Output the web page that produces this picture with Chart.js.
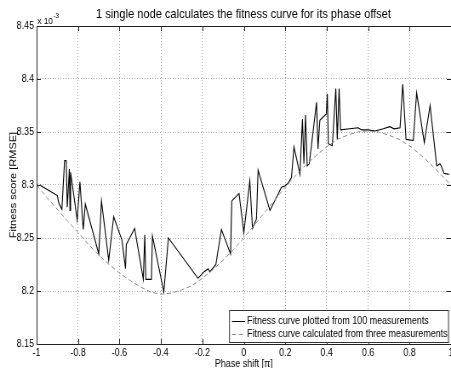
<!DOCTYPE html>
<html>
<head>
<meta charset="utf-8">
<script src="https://cdn.jsdelivr.net/npm/chart.js@4.4.0/dist/chart.umd.min.js"></script>
<style>
  body { margin: 0; background: #fff; }
  /* the original figure is squeezed sideways, so draw wide and shrink it */
  #fitChart { width: 451px; height: 368px; display: block; }
</style>
</head>
<body>
<canvas id="fitChart" width="530" height="368" style="width:451px;height:368px"></canvas>
<script>
// measured fitness curve (100 measurements, sorted by phase)
const measX = [-0.985, -0.900, -0.893, -0.878, -0.865, -0.857, -0.852, -0.842, -0.839, -0.836,
    -0.804, -0.791, -0.775, -0.765, -0.700, -0.687, -0.652, -0.628, -0.588, -0.571,
    -0.567, -0.527, -0.485, -0.478, -0.473, -0.446, -0.441, -0.386, -0.364, -0.221,
    -0.193, -0.172, -0.164, -0.135, -0.108, -0.064, -0.058, -0.023, 0.000, 0.029,
    0.042, 0.061, 0.069, 0.126, 0.182, 0.198, 0.215, 0.230, 0.242, 0.271,
    0.283, 0.290, 0.298, 0.306, 0.316, 0.351, 0.358, 0.367, 0.398, 0.403,
    0.408, 0.427, 0.444, 0.451, 0.460, 0.467, 0.512, 0.552, 0.569, 0.600,
    0.633, 0.673, 0.705, 0.725, 0.754, 0.767, 0.783, 0.818, 0.834, 0.871,
    0.899, 0.931, 0.947, 0.955, 0.966, 0.990];
const measY = [8.300, 8.290, 8.283, 8.277, 8.323, 8.323, 8.279, 8.315, 8.276, 8.312,
    8.267, 8.303, 8.258, 8.282, 8.235, 8.285, 8.229, 8.270, 8.248, 8.221,
    8.244, 8.259, 8.211, 8.253, 8.211, 8.211, 8.252, 8.199, 8.250, 8.212,
    8.218, 8.221, 8.218, 8.225, 8.258, 8.235, 8.285, 8.292, 8.255, 8.304,
    8.259, 8.268, 8.314, 8.276, 8.298, 8.299, 8.302, 8.307, 8.336, 8.310,
    8.362, 8.320, 8.366, 8.318, 8.320, 8.378, 8.334, 8.361, 8.367, 8.386,
    8.339, 8.337, 8.391, 8.343, 8.391, 8.352, 8.353, 8.354, 8.352, 8.352,
    8.351, 8.353, 8.355, 8.353, 8.354, 8.395, 8.343, 8.342, 8.387, 8.340,
    8.375, 8.318, 8.320, 8.317, 8.311, 8.310];

// fitted curve from three measurements
const fitX = [-1.00, -0.95, -0.90, -0.85, -0.80, -0.75, -0.70, -0.65, -0.60, -0.55,
    -0.50, -0.45, -0.40, -0.35, -0.30, -0.25, -0.20, -0.15, -0.10, -0.05,
    0.00, 0.05, 0.10, 0.15, 0.20, 0.25, 0.30, 0.35, 0.40, 0.45,
    0.50, 0.55, 0.60, 0.65, 0.70, 0.75, 0.80, 0.85, 0.90, 0.95, 1.00];
const fitY = [8.300, 8.288, 8.277, 8.266, 8.255, 8.244, 8.234, 8.225, 8.217, 8.210,
    8.204, 8.199, 8.197, 8.198, 8.201, 8.205, 8.212, 8.220, 8.229, 8.239,
    8.250, 8.262, 8.274, 8.286, 8.298, 8.309, 8.319, 8.328, 8.336, 8.343,
    8.347, 8.350, 8.351, 8.350, 8.347, 8.343, 8.337, 8.329, 8.320, 8.310, 8.300];

const xTicks = [-1, -0.8, -0.6, -0.4, -0.2, 0, 0.2, 0.4, 0.6, 0.8, 1];
const yTicks = [8.15, 8.2, 8.25, 8.3, 8.35, 8.4, 8.45];

const titleText = '1 single node calculates the fitness curve for its phase offset';
const legendLabels = ['Fitness curve plotted from 100 measurements',
    'Fitness curve calculated from three measurements'];

const FONT = "'Liberation Sans', Arial, Helvetica, sans-serif";
Chart.defaults.font.family = FONT;
Chart.defaults.color = '#000';

const SQ = 451 / 530;          // horizontal squeeze of the page
const wx = (x) => x / SQ;      // page x -> canvas x

const toPts = (xs, ys) => xs.map((x, i) => ({ x: x, y: ys[i] }));

// title, exponent label, box, inner ticks and legend, drawn like the matlab figure
const decor = {
    id: 'decor',
    afterDraw(chart) {
        const ctx = chart.ctx;
        const a = chart.chartArea;
        const sx = chart.scales.x, sy = chart.scales.y;
        ctx.save();
        ctx.strokeStyle = '#222';
        ctx.lineWidth = 1;
        ctx.strokeRect(a.left + 0.5, a.top + 0.5, a.right - a.left, a.bottom - a.top);

        // matlab style ticks pointing into the axes
        ctx.beginPath();
        xTicks.forEach(v => {
            const px = Math.round(sx.getPixelForValue(v)) + 0.5;
            ctx.moveTo(px, a.bottom); ctx.lineTo(px, a.bottom - 5);
            ctx.moveTo(px, a.top); ctx.lineTo(px, a.top + 5);
        });
        yTicks.forEach(v => {
            const py = Math.round(sy.getPixelForValue(v)) + 0.5;
            ctx.moveTo(a.left, py); ctx.lineTo(a.left + 5, py);
            ctx.moveTo(a.right, py); ctx.lineTo(a.right - 5, py);
        });
        ctx.stroke();

        ctx.fillStyle = '#000';
        ctx.textBaseline = 'middle';
        ctx.textAlign = 'center';
        ctx.font = '13px ' + FONT;
        ctx.fillText(titleText, wx(243.5), 14);

        ctx.textAlign = 'left';
        ctx.font = '9.5px ' + FONT;
        ctx.fillText('x 10', a.left + 1, 21);
        const w = ctx.measureText('x 10').width;
        ctx.font = '7px ' + FONT;
        ctx.fillText('-3', a.left + 2 + w, 16);

        // legend
        const lx = wx(229.5), ly = 310.5, lw = wx(448.5) - wx(229.5), lh = 32;
        ctx.fillStyle = '#fff';
        ctx.fillRect(lx, ly, lw, lh);
        ctx.strokeStyle = '#333';
        ctx.strokeRect(lx, ly, lw, lh);
        ctx.strokeStyle = '#000';
        ctx.beginPath();
        ctx.moveTo(wx(232), 321.5);
        ctx.lineTo(wx(245), 321.5);
        ctx.stroke();
        ctx.strokeStyle = '#8c8c8c';
        ctx.setLineDash([5, 3]);
        ctx.beginPath();
        ctx.moveTo(wx(232), 334.5);
        ctx.lineTo(wx(245), 334.5);
        ctx.stroke();
        ctx.setLineDash([]);
        ctx.fillStyle = '#000';
        ctx.font = '10.5px ' + FONT;
        ctx.fillText(legendLabels[0], wx(247), 321.5);
        ctx.fillText(legendLabels[1], wx(247), 334.5);
        ctx.restore();
    }
};

const ctx = document.getElementById('fitChart').getContext('2d');
const chart = new Chart(ctx, {
    type: 'line',
    data: {
        datasets: [{
            label: legendLabels[1],
            data: toPts(fitX, fitY),
            borderColor: '#8c8c8c',
            borderWidth: 1,
            borderDash: [5, 3],
            pointRadius: 0,
            tension: 0
        }, {
            label: legendLabels[0],
            data: toPts(measX, measY),
            borderColor: '#000',
            borderWidth: 1.1,
            pointRadius: 0,
            tension: 0
        }]
    },
    options: {
        responsive: false,
        animation: false,
        events: [],
        layout: { padding: { top: 26, right: 0, bottom: 0, left: 0 } },
        plugins: { legend: { display: false }, tooltip: { enabled: false } },
        scales: {
            x: {
                type: 'linear',
                min: -1,
                max: 1,
                afterBuildTicks: (s) => { s.ticks = xTicks.map(v => ({ value: v })); },
                afterFit: (s) => { s.height = 24; s.paddingLeft = 0; s.paddingRight = 0; },
                ticks: {
                    padding: 3, font: { size: 10.5 }, maxRotation: 0, autoSkip: false,
                    callback: (v) => String(+v.toFixed(1))
                },
                grid: { color: '#a8a8a8', drawTicks: false },
                border: { display: true, color: '#222', dash: [1, 2] },
                title: { display: true, text: 'Phase shift [π]', font: { size: 10.5, lineHeight: 0.8 }, padding: 0 }
            },
            y: {
                min: 8.15,
                max: 8.45,
                afterBuildTicks: (s) => { s.ticks = yTicks.map(v => ({ value: v })); },
                afterFit: (s) => { s.width = 43; s.paddingTop = 0; s.paddingBottom = 0; },
                ticks: {
                    padding: 3, font: { size: 10.5 },
                    callback: (v) => String(+v.toFixed(2))
                },
                grid: { color: '#a8a8a8', drawTicks: false },
                border: { display: true, color: '#222', dash: [1, 2] },
                title: { display: true, text: 'Fitness score [RMSE]', font: { size: 11 }, padding: { top: 9, bottom: 0 } }
            }
        }
    },
    plugins: [decor]
});
</script>
</body>
</html>
